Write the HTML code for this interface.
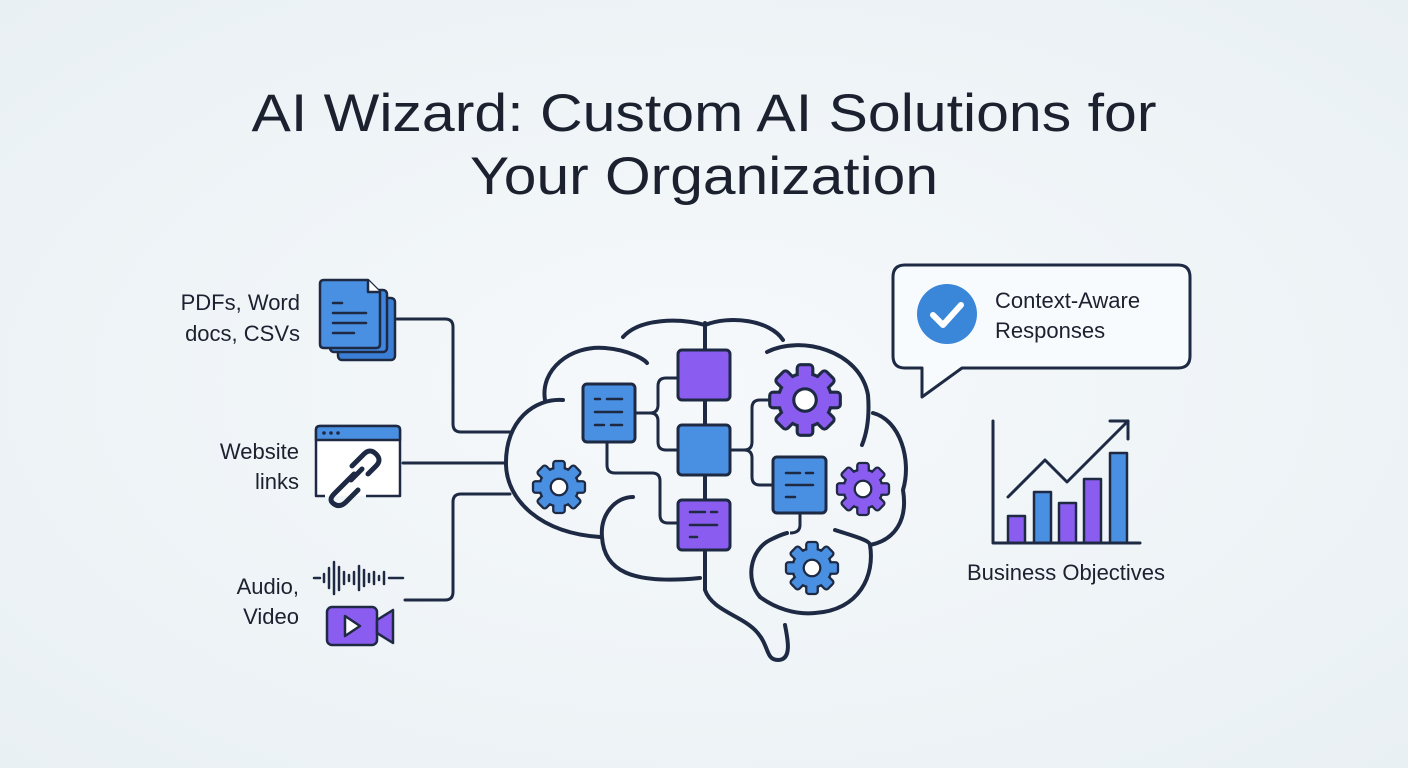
<!DOCTYPE html>
<html><head><meta charset="utf-8"><style>
html,body{margin:0;padding:0;width:1408px;height:768px;overflow:hidden;background:#f0f5f8}
svg{display:block}
text{font-family:"Liberation Sans",sans-serif;fill:#1c2130}
</style></head><body>
<svg width="1408" height="768" viewBox="0 0 1408 768" xmlns="http://www.w3.org/2000/svg">
<defs>
<radialGradient id="bg" cx="50%" cy="50%" r="70%"><stop offset="0" stop-color="#f6f9fb"/><stop offset="1" stop-color="#e9f0f4"/></radialGradient>
<g id="gearS">
 <g stroke="#1e2a44" stroke-width="5" stroke-linejoin="round">
  <rect x="-5" y="-27" width="10" height="12" rx="1.5"/><rect x="-5" y="-27" width="10" height="12" rx="1.5" transform="rotate(45)"/>
  <rect x="-5" y="-27" width="10" height="12" rx="1.5" transform="rotate(90)"/><rect x="-5" y="-27" width="10" height="12" rx="1.5" transform="rotate(135)"/>
  <rect x="-5" y="-27" width="10" height="12" rx="1.5" transform="rotate(180)"/><rect x="-5" y="-27" width="10" height="12" rx="1.5" transform="rotate(225)"/>
  <rect x="-5" y="-27" width="10" height="12" rx="1.5" transform="rotate(270)"/><rect x="-5" y="-27" width="10" height="12" rx="1.5" transform="rotate(315)"/>
  <circle r="20"/>
 </g>
 <g>
  <rect x="-5" y="-27" width="10" height="12" rx="1.5"/><rect x="-5" y="-27" width="10" height="12" rx="1.5" transform="rotate(45)"/>
  <rect x="-5" y="-27" width="10" height="12" rx="1.5" transform="rotate(90)"/><rect x="-5" y="-27" width="10" height="12" rx="1.5" transform="rotate(135)"/>
  <rect x="-5" y="-27" width="10" height="12" rx="1.5" transform="rotate(180)"/><rect x="-5" y="-27" width="10" height="12" rx="1.5" transform="rotate(225)"/>
  <rect x="-5" y="-27" width="10" height="12" rx="1.5" transform="rotate(270)"/><rect x="-5" y="-27" width="10" height="12" rx="1.5" transform="rotate(315)"/>
  <circle r="20"/>
 </g>
 <circle r="9" fill="#fff" stroke="#1e2a44" stroke-width="2.5"/>
</g>
</defs>
<rect width="1408" height="768" fill="url(#bg)"/>

<text x="704" y="131" text-anchor="middle" font-size="53" textLength="905" lengthAdjust="spacingAndGlyphs">AI Wizard: Custom AI Solutions for</text>
<text x="704" y="194" text-anchor="middle" font-size="53" textLength="468" lengthAdjust="spacingAndGlyphs">Your Organization</text>

<!-- left labels -->
<g font-size="22" text-anchor="end">
<text x="300" y="310">PDFs, Word</text><text x="300" y="341">docs, CSVs</text>
<text x="299" y="459">Website</text><text x="299" y="489">links</text>
<text x="299" y="594">Audio,</text><text x="299" y="624">Video</text>
</g>

<!-- connectors -->
<g fill="none" stroke="#1e2a44" stroke-width="3" stroke-linecap="round" stroke-linejoin="round">
<path d="M397 319 H445 Q453 319 453 327 V424 Q453 432 461 432 H512"/>
<path d="M403 463 H505"/>
<path d="M405 600 H445 Q453 600 453 592 V502 Q453 494 461 494 H510"/>
</g>

<!-- docs icon -->
<g stroke="#1e2a44" stroke-width="2.5" stroke-linejoin="round">
<rect x="338" y="298" width="57" height="62" rx="4" fill="#3a7fd5"/>
<rect x="330" y="290" width="57" height="62" rx="4" fill="#3f86dc"/>
<path d="M324 280 H368 L380 292 V344 Q380 348 376 348 H324 Q320 348 320 344 V284 Q320 280 324 280 Z" fill="#4a90e2"/>
<path d="M368 280 V292 H380" fill="#fff"/>
</g>
<g stroke="#1e2a44" stroke-width="2.5" stroke-linecap="round">
<line x1="333" y1="303" x2="342" y2="303"/><line x1="333" y1="313" x2="366" y2="313"/><line x1="333" y1="323" x2="366" y2="323"/><line x1="333" y1="333" x2="354" y2="333"/>
</g>

<!-- website icon -->
<g stroke="#1e2a44" stroke-width="2.5" fill="none" stroke-linejoin="round">
<path d="M325 496 H316 V430 Q316 426 320 426 H396 Q400 426 400 430 V496 H366" fill="#fff"/>
<path d="M316 440 V430 Q316 426 320 426 H396 Q400 426 400 430 V440 Z" fill="#4a90e2"/>
</g>
<circle cx="324" cy="433" r="1.8" fill="#1e2a44"/><circle cx="331" cy="433" r="1.8" fill="#1e2a44"/><circle cx="338" cy="433" r="1.8" fill="#1e2a44"/>
<g fill="none" stroke="#1e2a44" stroke-width="5" stroke-linecap="round">
<path d="M352 466 L364 454 Q370 448 376 454 Q382 460 376 466 L368 474"/>
<path d="M354 474 L346 482 Q340 488 334 494 Q328 500 334 504 Q340 508 346 502 L358 490"/>
<path d="M351 480 L362 469"/>
</g>

<!-- audio waveform -->
<g stroke="#1e2a44" stroke-width="2.5" stroke-linecap="round">
<line x1="314" y1="578" x2="320" y2="578"/><line x1="324" y1="574" x2="324" y2="582"/><line x1="329" y1="568" x2="329" y2="588"/>
<line x1="334" y1="562" x2="334" y2="594"/><line x1="339" y1="567" x2="339" y2="590"/><line x1="344" y1="572" x2="344" y2="584"/>
<line x1="349" y1="575" x2="349" y2="581"/><line x1="354" y1="572" x2="354" y2="584"/><line x1="359" y1="566" x2="359" y2="590"/>
<line x1="364" y1="570" x2="364" y2="586"/><line x1="369" y1="574" x2="369" y2="582"/><line x1="374" y1="572" x2="374" y2="584"/>
<line x1="379" y1="576" x2="379" y2="580"/><line x1="384" y1="572" x2="384" y2="584"/><line x1="389" y1="578" x2="403" y2="578"/>
</g>
<!-- video -->
<g stroke="#1e2a44" stroke-width="2.5" stroke-linejoin="round" fill="#8b5cf0">
<rect x="327" y="607" width="50" height="38" rx="5"/>
<path d="M377 620 L393 610 V643 L377 633 Z"/>
<path d="M345 616 L360 626 L345 636 Z" fill="#fff"/>
</g>

<!-- brain outline -->
<g fill="none" stroke="#1e2a44" stroke-width="4" stroke-linecap="round" stroke-linejoin="round">
<path d="M563 400 C535 398 505 420 506 465 C507 500 540 533 600 537"/>
<path d="M633 497 C615 497 600 515 602 537 C604 570 630 585 700 578"/>
<path d="M545 400 C540 370 570 345 605 348 C630 350 645 360 647 363"/>
<path d="M623 337 C640 318 680 318 705 325 C730 315 770 320 783 340"/>
<path d="M705 323 V590 C712 610 740 615 755 630 C770 645 765 660 778 660 C792 660 788 640 785 625"/>
<path d="M767 352 C800 335 860 350 868 395 C870 420 866 435 862 445"/>
<path d="M873 413 C900 420 912 460 903 490 C908 520 895 540 870 545"/>
<path d="M835 530 C850 535 870 540 870 545 C875 575 860 610 815 613 C795 615 775 608 760 597"/>
<path d="M760 597 C745 580 750 550 770 540 C778 536 783 534 787 533"/>
</g>

<!-- brain internal connectors -->
<g fill="none" stroke="#1e2a44" stroke-width="3" stroke-linejoin="round">
<path d="M635 413 H650 Q658 413 658 405 V386 Q658 378 666 378 H678"/>
<path d="M650 413 Q658 413 658 421 V442 Q658 450 666 450 H678"/>
<path d="M607 442 V465 Q607 473 615 473 H652 Q660 473 660 481 V515 Q660 523 668 523 H678"/>
<path d="M730 450 H744 Q752 450 752 442 V408 Q752 400 760 400 H772"/>
<path d="M744 450 Q752 450 752 458 V477 Q752 485 760 485 H773"/>
<path d="M800 513 V525 Q800 533 790 533"/>
</g>

<!-- brain nodes -->
<g stroke="#1e2a44" stroke-width="3" stroke-linejoin="round">
<rect x="583" y="384" width="52" height="58" rx="4" fill="#4a90e2"/>
<rect x="678" y="350" width="52" height="50" rx="4" fill="#8b5cf0"/>
<rect x="678" y="425" width="52" height="50" rx="4" fill="#4a90e2"/>
<rect x="678" y="500" width="52" height="50" rx="4" fill="#8b5cf0"/>
<rect x="773" y="457" width="53" height="56" rx="4" fill="#4a90e2"/>
</g>
<g stroke="#1e2a44" stroke-width="2.5" stroke-linecap="round">
<line x1="595" y1="399" x2="600" y2="399"/><line x1="607" y1="399" x2="622" y2="399"/>
<line x1="595" y1="412" x2="622" y2="412"/>
<line x1="595" y1="425" x2="604" y2="425"/><line x1="611" y1="425" x2="622" y2="425"/>
<line x1="690" y1="512" x2="705" y2="512"/><line x1="711" y1="512" x2="717" y2="512"/>
<line x1="690" y1="525" x2="717" y2="525"/><line x1="690" y1="537" x2="697" y2="537"/>
<line x1="786" y1="473" x2="800" y2="473"/><line x1="806" y1="473" x2="813" y2="473"/>
<line x1="786" y1="485" x2="813" y2="485"/><line x1="786" y1="497" x2="795" y2="497"/>
</g>

<!-- gears -->
<use href="#gearS" transform="translate(805 400) scale(1.25)" fill="#8b5cf0"/>
<use href="#gearS" transform="translate(559 487) scale(0.92)" fill="#4a90e2"/>
<use href="#gearS" transform="translate(863 489) scale(0.92)" fill="#8b5cf0"/>
<use href="#gearS" transform="translate(812 568) scale(0.92)" fill="#4a90e2"/>

<!-- speech bubble -->
<path d="M905 265 H1178 Q1190 265 1190 277 V356 Q1190 368 1178 368 H962 L922 397 V368 H905 Q893 368 893 356 V277 Q893 265 905 265 Z" fill="#f8fbfd" stroke="#1e2a44" stroke-width="3" stroke-linejoin="round"/>
<circle cx="947" cy="314" r="30" fill="#3a86d8"/>
<path d="M933 315 L943 325 L961 305" fill="none" stroke="#fff" stroke-width="6" stroke-linecap="round" stroke-linejoin="round"/>
<text x="995" y="308" font-size="22">Context-Aware</text>
<text x="995" y="338" font-size="22">Responses</text>

<!-- chart -->
<g stroke="#1e2a44" stroke-width="2.5" stroke-linejoin="round">
<rect x="1008" y="516" width="17" height="27" fill="#8b5cf0"/>
<rect x="1034" y="492" width="17" height="51" fill="#4a90e2"/>
<rect x="1059" y="503" width="17" height="40" fill="#8b5cf0"/>
<rect x="1084" y="479" width="17" height="64" fill="#8b5cf0"/>
<rect x="1110" y="453" width="17" height="90" fill="#4a90e2"/>
</g>
<g fill="none" stroke="#1e2a44" stroke-width="3" stroke-linecap="round" stroke-linejoin="round">
<path d="M993 421 V543 H1140"/>
<path d="M1008 497 L1045 460 L1067 482 L1128 421"/>
<path d="M1110 421 H1128 V439"/>
</g>
<text x="1066" y="580" font-size="22" text-anchor="middle">Business Objectives</text>
</svg>
</body></html>
